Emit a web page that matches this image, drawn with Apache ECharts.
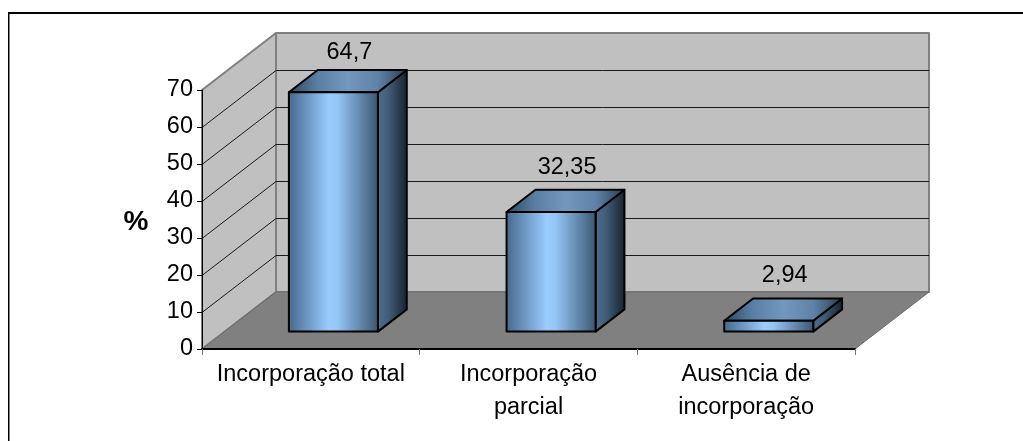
<!DOCTYPE html>
<html>
<head>
<meta charset="utf-8">
<style>html,body{margin:0;padding:0;background:#fff}#chart{width:1023px;height:441px}</style>
<script src="https://cdn.jsdelivr.net/npm/echarts@6/dist/echarts.min.js"></script>
</head>
<body>
<div id="chart"></div>
<script>
const categories = ['Incorporação total', 'Incorporação\nparcial', 'Ausência de\nincorporação'];
const values = [64.7, 32.35, 2.94];
const valueLabels = ['64,7', '32,35', '2,94'];
const yTicks = [0, 10, 20, 30, 40, 50, 60, 70];
const yAxisTitle = '%';

// Oblique projection of the chart box: how far the back plane shifts from the front plane.
const DEPTH_X = 74, DEPTH_Y = 57;
const BAR_WIDTH = 0.409, BAR_START = 0.305, BAR_DEPTH = 0.39;
const FONT = '"Liberation Sans", Arial, sans-serif';

const hGrad = stops => ({
  type: 'linear', x: 0, y: 0, x2: 1, y2: 0,
  colorStops: stops.map(([offset, color]) => ({ offset, color }))
});
const frontFill = hGrad([[0, '#46678a'], [0.45, '#99ccff'], [0.55, '#94c5f5'], [1, '#3a5570']]);
const topFill = hGrad([[0, '#2f4760'], [0.25, '#5a7fa5'], [0.5, '#7398bd'], [0.75, '#5f83a6'], [1, '#2a3c50']]);
const sideFill = hGrad([[0, '#4f7090'], [0.4, '#3f5a75'], [1, '#16202b']]);

const poly = (points, fill, stroke, lineWidth) => ({
  type: 'polygon',
  shape: { points },
  style: { fill, stroke: stroke || null, lineWidth: lineWidth || 0, lineJoin: 'round' }
});
const seg = (x1, y1, x2, y2, stroke, lineWidth) => ({
  type: 'line',
  shape: { x1, y1, x2, y2 },
  style: { stroke, lineWidth: lineWidth || 1 }
});

// Side wall, back wall, floor and the gridlines that run across both walls.
function renderBox(params, api) {
  const g = params.coordSys;
  const left = g.x, right = g.x + g.width, bottom = g.y + g.height, top = g.y;
  const children = [
    poly([[left, bottom], [left + DEPTH_X, bottom - DEPTH_Y], [left + DEPTH_X, top - DEPTH_Y], [left, top]], '#c0c0c0', '#808080', 2),
    poly([[left + DEPTH_X, bottom - DEPTH_Y], [right + DEPTH_X, bottom - DEPTH_Y], [right + DEPTH_X, top - DEPTH_Y], [left + DEPTH_X, top - DEPTH_Y]], '#c0c0c0', '#808080', 2),
    poly([[left, bottom], [right, bottom], [right + DEPTH_X, bottom - DEPTH_Y], [left + DEPTH_X, bottom - DEPTH_Y]], '#808080', '#6a6a6a', 1)
  ];
  yTicks.slice(1, -1).forEach(v => {
    const y = Math.round(api.coord([0, v])[1]) + 0.5;
    children.push(seg(left, y, left + DEPTH_X, y - DEPTH_Y, '#1a1a1a', 1));
    children.push(seg(left + DEPTH_X, y - DEPTH_Y, right + DEPTH_X, y - DEPTH_Y, '#1a1a1a', 1));
  });
  return { type: 'group', children };
}

// One prism per category, projected from the value axis.
function renderBar(params, api) {
  const g = params.coordSys;
  const idx = api.value(0), val = api.value(1);
  const base = api.coord([idx, 0]), peak = api.coord([idx, val]);
  const bw = api.size([1, 0])[0] * BAR_WIDTH;
  const ox = DEPTH_X * BAR_START, oy = DEPTH_Y * BAR_START;
  const dx = DEPTH_X * BAR_DEPTH, dy = DEPTH_Y * BAR_DEPTH;
  const l = base[0] - bw / 2 + ox, r = l + bw;
  const b = base[1] - oy, t = peak[1] - oy;
  const ink = '#000';
  const labelY = Math.max(t - dy - 22.5, g.y - DEPTH_Y + 19.5);
  return {
    type: 'group',
    children: [
      poly([[r, b], [r + dx, b - dy], [r + dx, t - dy], [r, t]], sideFill, ink, 2),
      poly([[l, t], [r, t], [r + dx, t - dy], [l + dx, t - dy]], topFill, ink, 2),
      poly([[l, b], [r, b], [r, t], [l, t]], frontFill, ink, 2),
      {
        type: 'text',
        style: {
          x: (l + r) / 2 + 16, y: labelY,
          text: valueLabels[idx],
          fill: '#000', font: '23.5px ' + FONT,
          textAlign: 'center', textVerticalAlign: 'middle'
        }
      }
    ]
  };
}

const chart = echarts.init(document.getElementById('chart'), null, { renderer: 'canvas' });
chart.setOption({
  animation: false,
  backgroundColor: '#fff',
  grid: { left: 202, right: 168, top: 90, bottom: 92, containLabel: false },
  xAxis: {
    type: 'category',
    data: categories,
    z: 6,
    axisLine: { onZero: false, lineStyle: { color: '#000', width: 2 } },
    axisTick: { show: true, alignWithLabel: false, length: 6, lineStyle: { color: '#777', width: 1 } },
    axisLabel: { color: '#000', fontFamily: FONT, fontSize: 23.5, lineHeight: 33, margin: 9, interval: 0 }
  },
  yAxis: {
    type: 'value', min: 0, max: 70, interval: 10,
    z: 6,
    axisLine: { show: true, lineStyle: { color: '#000', width: 1 } },
    axisTick: { show: true, length: 5, lineStyle: { color: '#000', width: 1 } },
    axisLabel: { color: '#000', fontFamily: FONT, fontSize: 23.5, margin: 9 },
    splitLine: { show: false }
  },
  series: [
    { type: 'custom', z: 1, silent: true, clip: false, renderItem: renderBox, data: [[0, 0]], encode: { x: 0, y: 1 } },
    { type: 'custom', z: 3, silent: true, clip: false, renderItem: renderBar, data: values.map((v, i) => [i, v]), encode: { x: 0, y: 1 } }
  ],
  graphic: [
    { type: 'line', silent: true, shape: { x1: 8.5, y1: 12, x2: 8.5, y2: 441 }, style: { stroke: '#000', lineWidth: 1 } },
    { type: 'line', silent: true, shape: { x1: 9.5, y1: 13, x2: 9.5, y2: 441 }, style: { stroke: '#808080', lineWidth: 1 } },
    { type: 'line', silent: true, shape: { x1: 8, y1: 13, x2: 1023, y2: 13 }, style: { stroke: '#000', lineWidth: 2 } },
    {
      type: 'text', silent: true, x: 136, y: 222,
      style: { text: yAxisTitle, fill: '#000', font: 'bold 28px ' + FONT, textAlign: 'center', textVerticalAlign: 'middle' }
    }
  ]
});
</script>
</body>
</html>
